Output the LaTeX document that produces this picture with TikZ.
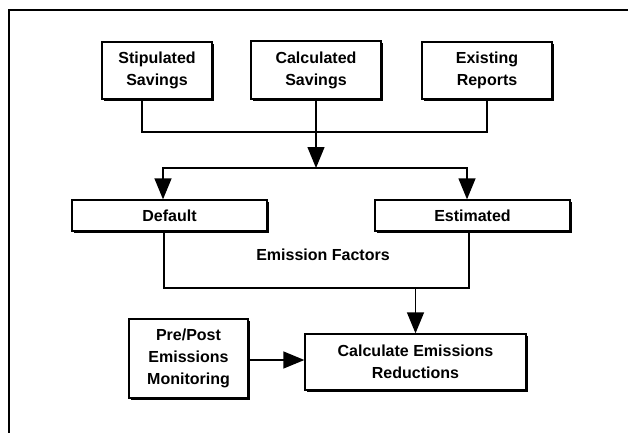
\documentclass[tikz,border=0pt]{standalone}
\usepackage{fontspec}
\setmainfont{Liberation Sans}
\usetikzlibrary{arrows.meta,shadows}

\tikzset{
  khoi/.style={draw, line width=1.3pt, fill=white, align=center, inner sep=0pt,
    font=\bfseries\fontsize{16}{22}\selectfont,
    drop shadow={shadow xshift=1.6pt, shadow yshift=-1.6pt, opacity=1, fill=black}},
  muiten/.style={-{Triangle[length=21pt, width=17pt]}}
}

\begin{document}
\begin{tikzpicture}[x=1pt, y=-1pt, line width=1.3pt]
    \useasboundingbox (0,0) rectangle (628,433);

    % Khung ngoài (chỉ cạnh trên và cạnh trái)
    \draw[line width=2.6pt] (628,10) -- (9,10) -- (9,433);

    % Ba nguồn số liệu
    \node[khoi, minimum width=110pt, minimum height=57pt] (stip)  at (157,70.5) {Stipulated\\Savings};
    \node[khoi, minimum width=130pt, minimum height=58pt] (calc)  at (316,70)   {Calculated\\Savings};
    \node[khoi, minimum width=130pt, minimum height=57pt] (exist) at (487,70.5) {Existing\\Reports};

    % Hệ số phát thải
    \node[khoi, minimum width=195pt, minimum height=31pt] (default) at (169.5,215.5) {Default};
    \node[khoi, minimum width=195pt, minimum height=31pt] (estim)   at (472.5,215.5) {Estimated};
    \node[font=\bfseries\fontsize{16}{20}\selectfont] (factors) at (323,255) {Emission Factors};

    % Giám sát và kết quả
    \node[khoi, minimum width=119pt, minimum height=79pt] (monitor) at (188.5,358.5) {Pre/Post\\Emissions\\Monitoring};
    \node[khoi, minimum width=221pt, minimum height=56pt] (reduce)  at (415.5,362)   {Calculate Emissions\\Reductions};

    % Điểm nối
    \coordinate (join)  at (316,132);
    \coordinate (split) at (316,168);
    \coordinate (merge) at (415.5,288);

    % Đường nối phía trên
    \draw ([xshift=-15pt]stip.south) |- (join) -| (exist.south);
    \draw[muiten] (calc.south) -- (split);
    \draw[muiten] (split) -| ([xshift=-6.5pt]default.north);
    \draw[muiten] (split) -| ([xshift=-5.5pt]estim.north);

    % Đường nối phía dưới
    \draw ([xshift=-5.5pt]default.south) |- (merge) -| ([xshift=-3.5pt]estim.south);
    \draw[muiten] (merge) -- (reduce.north);
    \draw[muiten] ([yshift=-1.5pt]monitor.east) -- ([yshift=-1.5pt]monitor.east -| reduce.west);

\end{tikzpicture}
\end{document}
